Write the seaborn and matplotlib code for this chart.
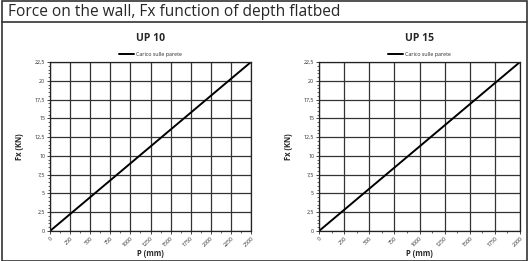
import numpy as np
import pandas as pd
import seaborn as sns
import matplotlib.pyplot as plt
from matplotlib.ticker import FuncFormatter, MultipleLocator

# data: depth (mm) vs force on wall (kN)
p_up10 = [0, 2500]
fx_up10 = [0, 22.5]
p_up15 = [0, 2000]
fx_up15 = [0, 22.5]

titles = ["UP 10", "UP 15"]
x_max = [2500, 2000]
series_name = "Carico sulle parete"

sns.set_style("white")
plt.rcParams['font.family'] = ['Open Sans', 'DejaVu Sans']

fig = plt.figure(figsize=(5.29, 2.61), dpi=100)

# header box and outer frame
fig.add_artist(plt.Rectangle((0.004, 0.0), 0.992, 0.995, transform=fig.transFigure,
                             fill=False, lw=1.2, ec="#333333"))
fig.add_artist(plt.Line2D([0.004, 0.996], [1 - 22 / 261, 1 - 22 / 261],
                          transform=fig.transFigure, lw=1.2, color="#333333"))
fig.text(0.015, 1 - 12 / 261, "Force on the wall, Fx function of depth flatbed",
         fontsize=11.2, va="center", ha="left")

comma = FuncFormatter(lambda v, pos: ("%g" % v).replace(".", ","))

frames = [pd.DataFrame({"P": p_up10, "Fx": fx_up10}),
          pd.DataFrame({"P": p_up15, "Fx": fx_up15})]
lefts = [50 / 529, 319 / 529]

for i, df in enumerate(frames):
    ax = fig.add_axes([lefts[i], 1 - 231 / 261, 201 / 529, 169 / 261])
    sns.lineplot(data=df, x="P", y="Fx", ax=ax, color="black", lw=1.4,
                 label=series_name)
    ax.set_xlim(0, x_max[i])
    ax.set_ylim(0, 22.5)
    ax.xaxis.set_major_locator(MultipleLocator(250))
    ax.xaxis.set_minor_locator(MultipleLocator(125))
    ax.yaxis.set_major_locator(MultipleLocator(2.5))
    ax.yaxis.set_minor_locator(MultipleLocator(0.5))
    ax.yaxis.set_major_formatter(comma)
    ax.grid(True, which="major", color="#333333", lw=0.9)
    for s in ax.spines.values():
        s.set_color("#222222")
        s.set_linewidth(0.9)
    ax.tick_params(axis="both", which="major", labelsize=3.8, length=2,
                   width=0.6, pad=1.5, bottom=True, left=True)
    ax.tick_params(axis="both", which="minor", length=1.2, width=0.5,
                   bottom=True, left=True)
    for lab in ax.get_xticklabels():
        lab.set_rotation(45)
        lab.set_ha("right")
        lab.set_rotation_mode("anchor")
    ax.set_xlabel("P (mm)", fontsize=5.5, fontweight="bold", labelpad=1)
    ax.set_ylabel("Fx (KN)", fontsize=5.5, fontweight="bold", labelpad=8)
    ax.set_title(titles[i], fontsize=7.5, fontweight="bold", pad=15)
    ax.legend(loc="lower center", bbox_to_anchor=(0.5, 1.0), frameon=False,
              fontsize=3.8, handlelength=2.8, handletextpad=0.3, borderaxespad=0.6)

fig.savefig("out.png", dpi=100)
